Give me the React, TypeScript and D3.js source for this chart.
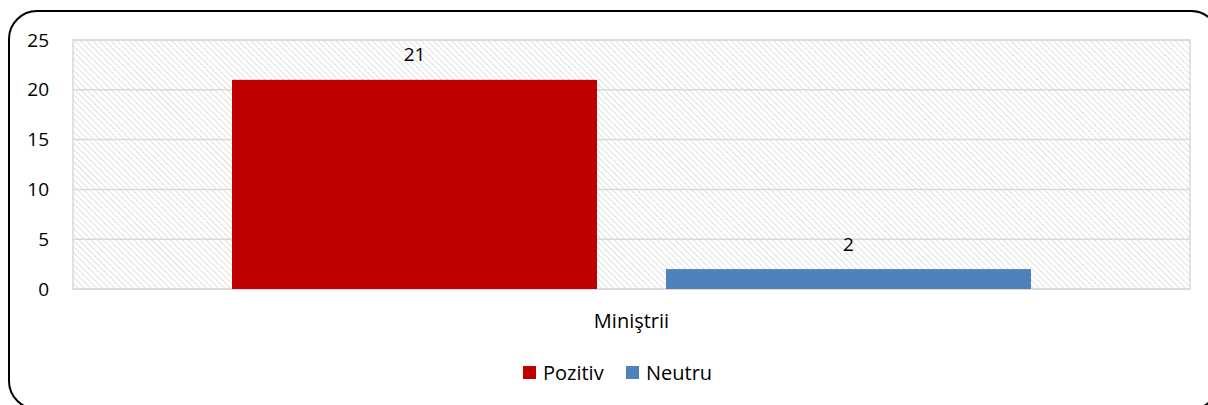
import React from 'react';
import * as d3 from 'd3';

const categories = ['Miniştrii'];
const seriesNames = ['Pozitiv', 'Neutru'];
const seriesColors = ['#c00000', '#4f81bd'];
const seriesValues = [[21], [2]];
const yTicks = [0, 5, 10, 15, 20, 25];

const W = 1208;
const H = 405;
const margin = { top: 40, right: 18, bottom: 116, left: 73 };
const font = '"Open Sans", sans-serif';

export default function App() {
  const width = W - margin.left - margin.right;
  const height = H - margin.top - margin.bottom;

  const x = d3.scaleBand().domain(categories).range([0, width]).paddingInner(0).paddingOuter(0.199);
  const xs = d3.scaleBand().domain(seriesNames).range([0, x.bandwidth()]).paddingInner(0.159);
  const y = d3.scaleLinear().domain([0, 25]).range([height, 0]);

  return (
    <svg width={W} height={H} style={{ position: 'absolute', left: 0, top: 0 }}>
      <defs>
        <pattern id="hatch" width="4.3" height="4.3" patternUnits="userSpaceOnUse" patternTransform="rotate(-45)">
          <line x1="0" y1="0" x2="0" y2="4.3" stroke="#d4d4d4" strokeWidth="1.6" strokeDasharray="1.8 0.4" />
        </pattern>
      </defs>
      <rect x={9} y={11} width={1210} height={398} rx={28} ry={28} fill="#fff" stroke="#000" strokeWidth={2} />
      <g transform={`translate(${margin.left},${margin.top})`}>
        <rect x={0} y={0} width={width} height={height} fill="url(#hatch)" stroke="#d9d9d9" strokeWidth={1.5} />
        {yTicks.map((t) => (
          <g key={t}>
            <line x1={0} x2={width} y1={y(t)} y2={y(t)} stroke="#d9d9d9" strokeWidth={1.5} />
            <text x={-24} y={y(t)} dy="0.35em" textAnchor="end" fontFamily={font} fontSize={19} fill="#000">
              {t}
            </text>
          </g>
        ))}
        {categories.map((c, ci) => (
          <g key={c} transform={`translate(${x(c)},0)`}>
            {seriesNames.map((s, si) => {
              const v = seriesValues[si][ci];
              return (
                <g key={s}>
                  <rect x={xs(s)} y={y(v)} width={xs.bandwidth()} height={height - y(v)} fill={seriesColors[si]} />
                  <text x={(xs(s) as number) + xs.bandwidth() / 2} y={y(v) - 25} dy="0.35em" textAnchor="middle" fontFamily={font} fontSize={19} fill="#000">
                    {v}
                  </text>
                </g>
              );
            })}
            <text x={x.bandwidth() / 2} y={height + 32} dy="0.35em" textAnchor="middle" fontFamily={font} fontSize={20} fill="#000">
              {c}
            </text>
          </g>
        ))}
      </g>
      <g transform="translate(523,366)">
        {seriesNames.map((s, i) => (
          <g key={s} transform={`translate(${i * 103},0)`}>
            <rect x={0} y={0} width={13} height={13} fill={seriesColors[i]} />
            <text x={20} y={6.5} dy="0.35em" fontFamily={font} fontSize={20} fill="#000">
              {s}
            </text>
          </g>
        ))}
      </g>
    </svg>
  );
}
